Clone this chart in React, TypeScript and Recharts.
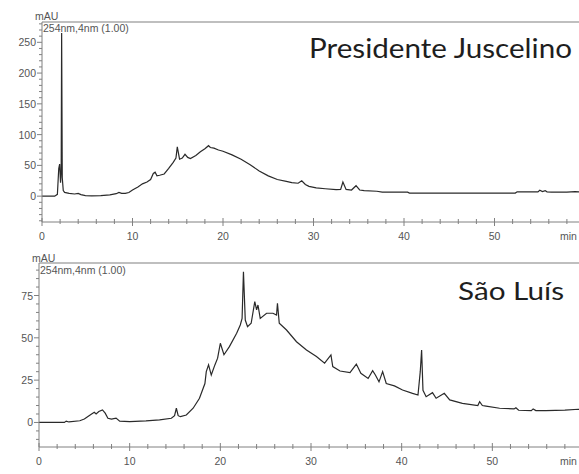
import React from 'react';
import { LineChart, Line, XAxis, YAxis, ReferenceLine } from 'recharts';

// Presidente Juscelino trace (min, mAU)
const pjTime = [0, 1.4, 1.7, 1.85, 1.95, 2.05, 2.12, 2.17, 2.24, 2.35, 2.5, 3.0, 3.6, 4.0, 4.3, 4.8, 5.5, 6.5, 7.5, 8.2, 8.5, 8.8, 9.2, 9.6, 10.0, 10.6, 11.1, 11.6, 12.0, 12.3, 12.5, 12.7, 13.0, 13.5, 14.0, 14.5, 14.8, 14.95, 15.2, 15.5, 15.8, 16.1, 16.4, 17.0, 17.5, 18.0, 18.4, 18.6, 19.0, 19.5, 20.0, 21.0, 22.0, 23.0, 24.0, 25.0, 26.0, 27.0, 27.6, 28.3, 28.7, 29.1, 29.5, 30.3, 31.3, 32.5, 33.0, 33.25, 33.6, 34.2, 34.7, 35.1, 35.6, 37.0, 37.6, 40.4, 40.6, 45, 50, 52.3, 52.5, 54.8, 55.0, 55.3, 55.6, 55.8, 56.3, 58, 58.9, 60];
const pjAbs = [0, 0, 3, 45, 52, 22, 40, 265, 30, 9, 6, 4.5, 3.5, 4.5, 2.5, 1, 0.5, 1, 2, 4, 6, 4.5, 4.5, 6, 10, 15, 20, 23, 27, 37, 39, 33, 34, 36, 45, 55, 62, 80, 60, 62, 68, 63, 61, 66, 72, 77, 82, 79, 78, 75, 73, 67, 60, 51, 41, 33, 27, 24, 22, 21, 25, 19, 16, 13.5, 12, 10.5, 11, 23, 11, 10, 17, 10, 9, 8, 6.5, 6.5, 5, 5, 5, 5, 7, 7, 9.5, 7.5, 9, 7, 6.5, 6.5, 7.5, 6.5];

// São Luís trace (min, mAU)
const slTime = [0, 2.8, 3.0, 3.3, 4.5, 5.0, 5.4, 5.8, 6.1, 6.3, 6.6, 7.0, 7.3, 7.6, 8.0, 8.5, 8.9, 10, 11.8, 13.3, 14.6, 14.95, 15.15, 15.35, 15.6, 16.25, 17.0, 17.7, 18.3, 18.45, 18.7, 19.0, 19.4, 19.7, 20.0, 20.4, 21.0, 21.8, 22.2, 22.4, 22.55, 22.75, 23.0, 23.4, 23.8, 24.0, 24.15, 24.4, 25.1, 25.8, 26.2, 26.3, 26.5, 27.3, 28.4, 29.5, 30.6, 31.5, 32.2, 32.4, 33.2, 34.3, 35.0, 35.5, 36.3, 36.8, 37.1, 37.5, 37.9, 38.3, 39.2, 40.1, 41.2, 41.8, 42.05, 42.2, 42.35, 42.7, 43.4, 43.8, 44.7, 45.3, 46.7, 48.4, 48.6, 48.9, 49.3, 50.8, 52.4, 52.6, 52.9, 54.3, 54.5, 54.8, 55.9, 58, 59.5, 60];
const slAbs = [0, 0, 0.8, 0.3, 1, 2, 3.5, 5, 6, 5, 6.5, 7.4, 5.5, 2.5, 2, 2.6, 0.8, 0.5, 0.9, 1.5, 2.5, 4, 8.4, 4, 3.4, 4.4, 8.4, 14.3, 23, 30, 34, 28, 34, 38, 46.8, 40, 44.8, 52.7, 57.6, 61.5, 89, 60.5, 56.6, 58.6, 71.4, 66.5, 69.4, 61.5, 64.5, 64.5, 63.5, 70.4, 58.6, 54.6, 47.7, 42.8, 38.9, 35, 39.9, 33, 30.4, 29.5, 34.5, 29, 26, 30.6, 28, 24, 30, 23, 21.6, 19.2, 17.2, 16.2, 30, 42.8, 19, 15.2, 17.6, 14.3, 17.2, 13.3, 11.3, 10, 12.3, 10, 9.7, 8.4, 8, 8.7, 7.2, 7, 8, 7, 7, 7.3, 7.8, 7.6];

const timeTicks = [0, 2, 4, 6, 8, 10, 12, 14, 16, 18, 20, 22, 24, 26, 28, 30, 32, 34, 36, 38, 40, 42, 44, 46, 48, 50, 52, 54, 56, 58, 60];
const pjTicks = [-40, -30, -20, -10, 0, 10, 20, 30, 40, 50, 60, 70, 80, 90, 100, 110, 120, 130, 140, 150, 160, 170, 180, 190, 200, 210, 220, 230, 240, 250, 260, 270, 280];
const slTicks = [-10, -5, 0, 5, 10, 15, 20, 25, 30, 35, 40, 45, 50, 55, 60, 65, 70, 75, 80, 85, 90];

const pjData = pjTime.map((t, i) => ({ t, v: pjAbs[i] }));
const slData = slTime.map((t, i) => ({ t, v: slAbs[i] }));

const AXIS = '#808080';
const LABEL = '#555';
const TRACE = '#2a2a2a';
const FONT = '"Liberation Sans", Arial, sans-serif';

const makeYTick = (major: number) => (props: any) => {
  const { x, y, payload } = props;
  const v = payload.value;
  const isMajor = v % major === 0;
  return (
    <g>
      <line x1={x - (isMajor ? 5 : 3)} x2={x} y1={y} y2={y} stroke={AXIS} />
      {isMajor && (
        <text x={x - 6} y={y} dy={4} textAnchor="end" fontSize={10.5} fill={LABEL} fontFamily={FONT}>
          {v}
        </text>
      )}
    </g>
  );
};

const XTick = (props: any) => {
  const { x, y, payload } = props;
  const v = payload.value;
  const isMajor = v % 10 === 0;
  return (
    <g>
      <line x1={x} x2={x} y1={y - (isMajor ? 4 : 3)} y2={y + (isMajor ? 4 : 2)} stroke={AXIS} />
      {isMajor && v < 60 && (
        <text x={x} y={y + 18} textAnchor="middle" fontSize={10.5} fill={LABEL} fontFamily={FONT}>
          {v}
        </text>
      )}
    </g>
  );
};

export default function App() {
  return (
    <div style={{ position: 'fixed', left: 0, top: 0, width: 579, height: 474, overflow: 'hidden', background: '#fff' }}>
      <div style={{ position: 'absolute', left: 0, top: 0 }}>
        <LineChart width={600} height={250} data={pjData} margin={{ top: 22, right: 15, bottom: 0, left: 0 }}>
          <XAxis
            type="number"
            dataKey="t"
            domain={[0, 60]}
            ticks={timeTicks}
            interval={0}
            tickSize={0}
            tickMargin={0}
            tickLine={false}
            tick={XTick}
            height={28}
            stroke={AXIS}
            allowDataOverflow
          />
          <YAxis
            type="number"
            domain={[-42, 283]}
            ticks={pjTicks}
            interval={0}
            tickSize={0}
            tickMargin={0}
            tickLine={false}
            tick={makeYTick(50)}
            width={42}
            stroke={AXIS}
            allowDataOverflow
          />
          <ReferenceLine y={283} stroke={AXIS} strokeWidth={1.2} />
          <Line type="linear" dataKey="v" stroke={TRACE} strokeWidth={1.2} dot={false} isAnimationActive={false} />
        </LineChart>
      </div>
      <div style={{ position: 'absolute', left: 0, top: 240 }}>
        <LineChart width={600} height={234} data={slData} margin={{ top: 23, right: 17, bottom: 0, left: 0 }}>
          <XAxis
            type="number"
            dataKey="t"
            domain={[0, 60]}
            ticks={timeTicks}
            interval={0}
            tickSize={0}
            tickMargin={0}
            tickLine={false}
            tick={XTick}
            height={27}
            stroke={AXIS}
            allowDataOverflow
          />
          <YAxis
            type="number"
            domain={[-14.5, 94.2]}
            ticks={slTicks}
            interval={0}
            tickSize={0}
            tickMargin={0}
            tickLine={false}
            tick={makeYTick(25)}
            width={39}
            stroke={AXIS}
            allowDataOverflow
          />
          <ReferenceLine y={94.2} stroke={AXIS} strokeWidth={1.2} />
          <Line type="linear" dataKey="v" stroke={TRACE} strokeWidth={1.2} dot={false} isAnimationActive={false} />
        </LineChart>
      </div>
      <svg width={579} height={474} style={{ position: 'absolute', left: 0, top: 0, pointerEvents: 'none' }}>
        <g fontFamily={FONT} fontSize={10.5} fill={LABEL}>
          <text x={35} y={20}>mAU</text>
          <text x={43} y={32}>254nm,4nm (1.00)</text>
          <text x={560} y={240}>min</text>
          <text x={32} y={262}>mAU</text>
          <text x={40} y={274}>254nm,4nm (1.00)</text>
          <text x={560} y={465}>min</text>
        </g>
        <g fontFamily="Lato, 'Open Sans', sans-serif" fill="#1e1e1e">
          <text x={309} y={58} fontSize={26} textLength={263} lengthAdjust="spacingAndGlyphs">Presidente Juscelino</text>
          <text x={458} y={300} fontSize={25} textLength={106} lengthAdjust="spacingAndGlyphs">São Luís</text>
        </g>
      </svg>
    </div>
  );
}
